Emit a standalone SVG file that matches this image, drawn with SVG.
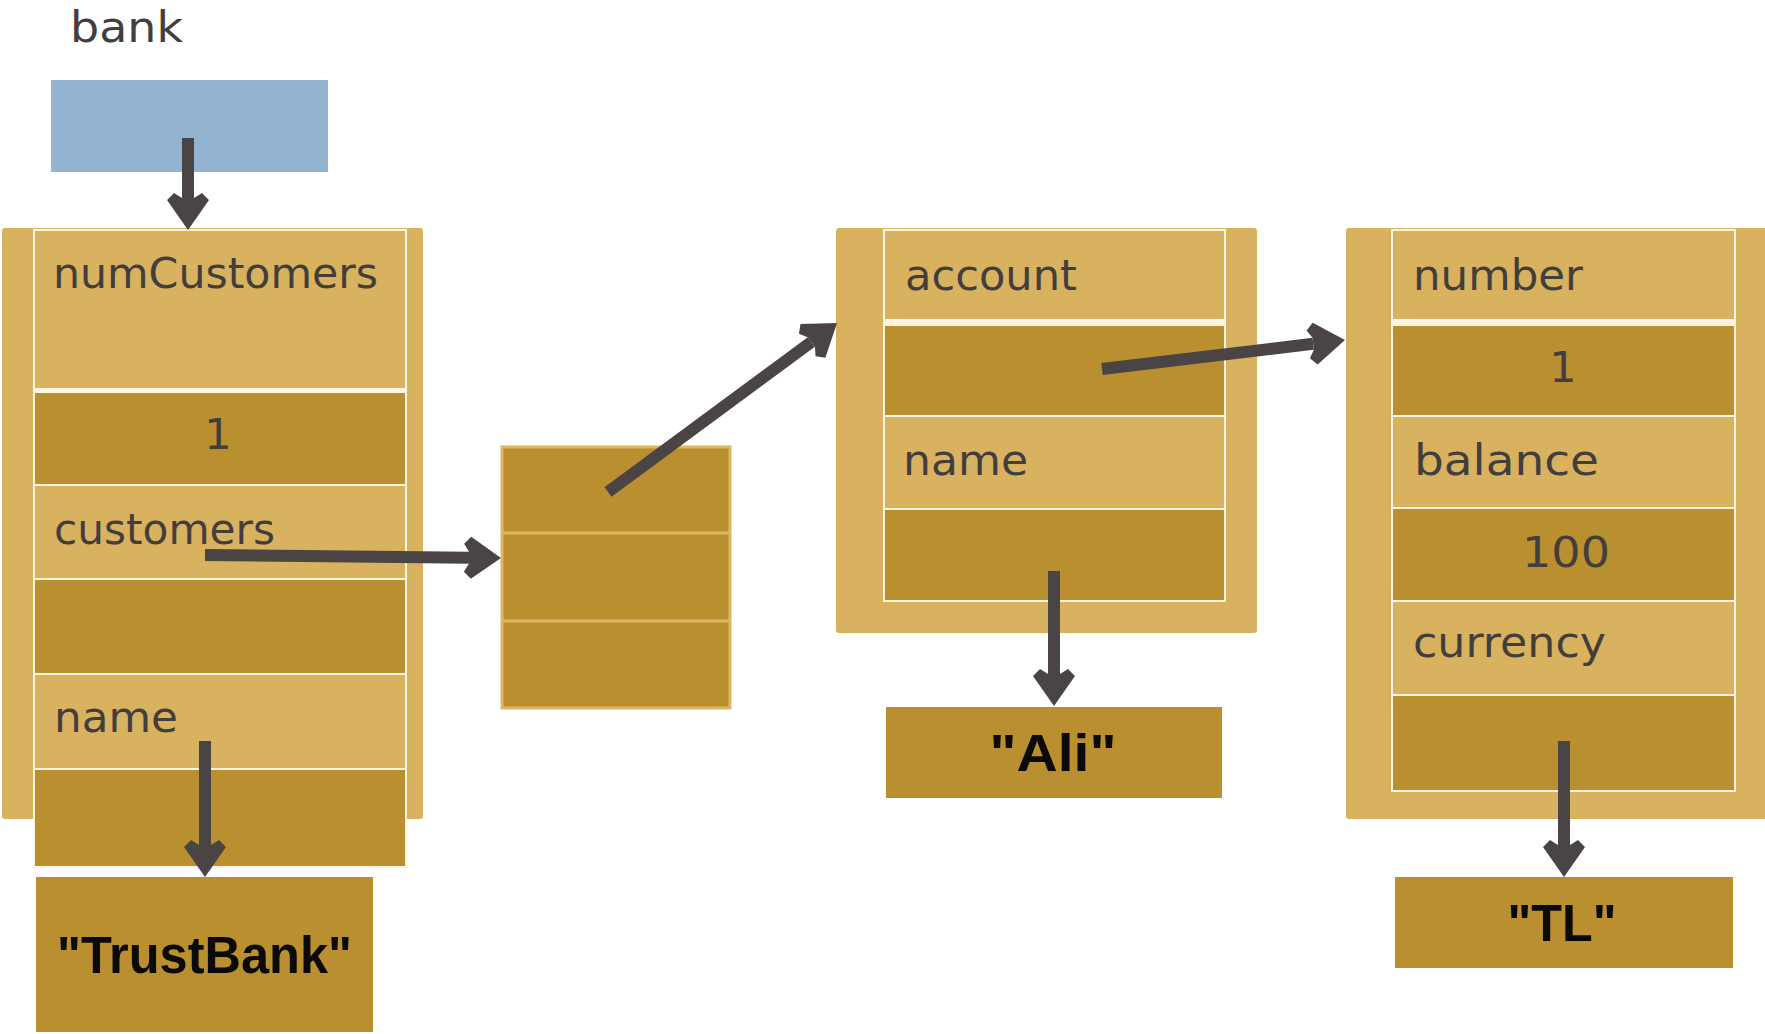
<svg xmlns="http://www.w3.org/2000/svg" width="1765" height="1034" viewBox="0 0 1765 1034">
  <style>
    .frame { fill: #D8B25E; }
    .edge { fill: #FDF4E2; }
    .light { fill: #D8B25E; }
    .dark { fill: #B98F30; }
    .ref { fill: #93B4D0; }
    .label { font-family: "DejaVu Sans", "Liberation Sans", sans-serif; font-size: 43px; fill: #433E3E; }
    .value { font-family: "DejaVu Sans", "Liberation Sans", sans-serif; font-size: 43px; fill: #433E3E; text-anchor: middle; }
    .str { font-family: "Liberation Sans", Arial, sans-serif; font-size: 51px; font-weight: bold; fill: #0C0A08; }
    .link { stroke: #4A4444; stroke-width: 12; fill: none; marker-end: url(#head); }
  </style>
  <defs>
    <!-- solid chevron head; origin is where the shaft stops, tip lies 32px further on -->
    <marker id="head" markerUnits="userSpaceOnUse" orient="auto" overflow="visible" refX="0" refY="0" markerWidth="1" markerHeight="1">
      <path d="M32 0 L2 -21 L-5 -14 L0 -6 L0 6 L-5 14 L2 21 Z" fill="#4A4444"/>
    </marker>
  </defs>

  <!-- reference variable -->
  <g id="bank-var">
    <text class="label" x="70" y="42" font-size="46" textLength="113" lengthAdjust="spacingAndGlyphs">bank</text>
    <rect class="ref" x="51" y="80" width="277" height="92"/>
  </g>

  <!-- Bank object -->
  <g id="bank-object">
    <rect class="frame" x="2" y="228" width="421" height="591" rx="3"/>
    <rect class="edge" x="33" y="229" width="374" height="639"/>
    <rect class="light" x="35" y="231" width="370" height="157"/>
    <rect class="dark" x="35" y="393" width="370" height="91"/>
    <rect class="light" x="35" y="486" width="370" height="92"/>
    <rect class="dark" x="35" y="580" width="370" height="93"/>
    <rect class="light" x="35" y="675" width="370" height="93"/>
    <rect class="dark" x="35" y="770" width="370" height="96"/>
    <text class="label" x="53" y="288" textLength="325" lengthAdjust="spacingAndGlyphs">numCustomers</text>
    <text class="value" x="218" y="449">1</text>
    <text class="label" x="54" y="544" textLength="221" lengthAdjust="spacingAndGlyphs">customers</text>
    <text class="label" x="54" y="732" textLength="124" lengthAdjust="spacingAndGlyphs">name</text>
  </g>

  <g id="bank-name">
    <rect class="dark" x="36" y="877" width="337" height="155"/>
    <text class="str" x="57" y="973" textLength="295" lengthAdjust="spacingAndGlyphs">"TrustBank"</text>
  </g>

  <!-- customers array -->
  <g id="customers-array">
    <rect class="dark" x="502" y="447" width="228" height="261" stroke="#DDB764" stroke-width="3"/>
    <line x1="502" y1="533" x2="730" y2="533" stroke="#DDB764" stroke-width="3"/>
    <line x1="502" y1="621" x2="730" y2="621" stroke="#DDB764" stroke-width="3"/>
  </g>

  <!-- Customer object -->
  <g id="customer-object">
    <rect class="frame" x="836" y="228" width="421" height="405" rx="3"/>
    <rect class="edge" x="883" y="229" width="343" height="373"/>
    <rect class="light" x="885" y="231" width="339" height="88"/>
    <rect class="dark" x="885" y="326" width="339" height="89"/>
    <rect class="light" x="885" y="417" width="339" height="91"/>
    <rect class="dark" x="885" y="510" width="339" height="90"/>
    <text class="label" x="905" y="290" textLength="172" lengthAdjust="spacingAndGlyphs">account</text>
    <text class="label" x="903" y="475" textLength="125" lengthAdjust="spacingAndGlyphs">name</text>
  </g>

  <g id="customer-name">
    <rect class="dark" x="886" y="707" width="336" height="91"/>
    <text class="str" x="1053" y="771" text-anchor="middle" textLength="127" lengthAdjust="spacingAndGlyphs">"Ali"</text>
  </g>

  <!-- Account object -->
  <g id="account-object">
    <rect class="frame" x="1346" y="228" width="425" height="591" rx="3"/>
    <rect class="edge" x="1391" y="229" width="345" height="563"/>
    <rect class="light" x="1393" y="231" width="341" height="88"/>
    <rect class="dark" x="1393" y="326" width="341" height="89"/>
    <rect class="light" x="1393" y="417" width="341" height="90"/>
    <rect class="dark" x="1393" y="509" width="341" height="91"/>
    <rect class="light" x="1393" y="602" width="341" height="92"/>
    <rect class="dark" x="1393" y="696" width="341" height="94"/>
    <text class="label" x="1413" y="290" textLength="170" lengthAdjust="spacingAndGlyphs">number</text>
    <text class="value" x="1563" y="382">1</text>
    <text class="label" x="1414" y="475" textLength="185" lengthAdjust="spacingAndGlyphs">balance</text>
    <text class="value" x="1566" y="567" textLength="88" lengthAdjust="spacingAndGlyphs">100</text>
    <text class="label" x="1413" y="657" textLength="193" lengthAdjust="spacingAndGlyphs">currency</text>
  </g>

  <g id="currency-value">
    <rect class="dark" x="1395" y="877" width="338" height="91"/>
    <text class="str" x="1562" y="941" text-anchor="middle" textLength="109" lengthAdjust="spacingAndGlyphs">"TL"</text>
  </g>

  <!-- references -->
  <g id="connectors">
    <line class="link" x1="188" y1="138" x2="188" y2="198"/>
    <line class="link" x1="205" y1="555" x2="469" y2="557.7"/>
    <line class="link" x1="608" y1="492" x2="811.3" y2="342"/>
    <line class="link" x1="1102" y1="369" x2="1313.2" y2="343.8"/>
    <line class="link" x1="1054" y1="571" x2="1054" y2="674"/>
    <line class="link" x1="205" y1="741" x2="205" y2="845"/>
    <line class="link" x1="1564" y1="741" x2="1564" y2="845"/>
  </g>
</svg>
